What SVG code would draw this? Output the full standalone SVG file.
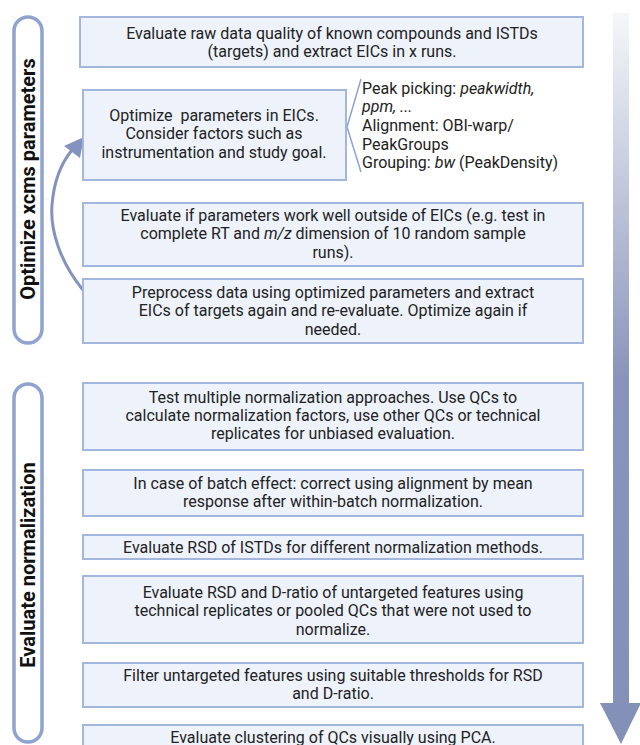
<svg xmlns="http://www.w3.org/2000/svg" width="640" height="745" viewBox="0 0 640 745">
<style>
.box{fill:#edf2fb;stroke:#a3b6dd;stroke-width:2}
.t{font-family:Roboto,"Liberation Sans",sans-serif;font-size:16px;fill:#222;text-anchor:middle}
.l{font-family:Roboto,"Liberation Sans",sans-serif;font-size:16px;fill:#222}
.pill{fill:#fff;stroke:#8fa3cf;stroke-width:3.5}
.side{font-family:Roboto,"Liberation Sans",sans-serif;font-size:20px;font-weight:bold;fill:#111;text-anchor:middle}
.con{fill:none;stroke:#8393bd;stroke-width:3}
</style>
<defs>
<linearGradient id="g" x1="0" y1="13" x2="0" y2="745" gradientUnits="userSpaceOnUse">
<stop offset="0" stop-color="#f6f7fa"/>
<stop offset="0.5" stop-color="#8894bb"/>
<stop offset="1" stop-color="#8391b8"/>
</linearGradient>
</defs>
<g id="bigarrow">
<rect x="613" y="13" width="16" height="692" fill="url(#g)"/>
<polygon points="600,703 641,703 621,744" fill="#8391b8"/>
</g>
<g id="phase1">
<rect class="pill" x="14" y="17" width="28" height="326" rx="14"/>
<text class="side" transform="translate(35,179) rotate(-90)">Optimize xcms parameters</text>
</g>
<g id="phase2">
<rect class="pill" x="14" y="384" width="28" height="358" rx="14"/>
<text class="side" transform="translate(35,565) rotate(-90)">Evaluate normalization</text>
</g>
<g id="connectors">
<path class="con" d="M83,290 C60,262 50,230 52,205 C54,180 62,162 72,150"/>
<polygon points="84,137 64,146 80,158" fill="#8393bd"/>
<path d="M361,79 L347,127 L361,172" fill="none" stroke="#8fa3cf" stroke-width="1.5"/>
</g>
<g id="n1">
<rect class="box" x="80" y="17" width="503" height="50"/>
<text class="t" x="332" y="38.5">Evaluate raw data quality of known compounds and ISTDs</text>
<text class="t" x="332" y="57">(targets) and extract EICs in x runs.</text>
</g>
<g id="n2">
<rect class="box" x="83" y="90" width="263" height="90"/>
<text class="t" x="214" y="120.5">Optimize&#160; parameters in EICs.</text>
<text class="t" x="214" y="139">Consider factors such as</text>
<text class="t" x="214" y="157.5">instrumentation and study goal.</text>
</g>
<g id="n2b">
<text class="l" x="362" y="93.5">Peak picking: <tspan font-style="italic">peakwidth,</tspan></text>
<text class="l" x="362" y="112"><tspan font-style="italic">ppm, ...</tspan></text>
<text class="l" x="362" y="131">Alignment: OBI-warp/</text>
<text class="l" x="362" y="149.5">PeakGroups</text>
<text class="l" x="362" y="168">Grouping: <tspan font-style="italic">bw</tspan> (PeakDensity)</text>
</g>
<g id="n3">
<rect class="box" x="83" y="203" width="500" height="63"/>
<text class="t" x="333" y="220.5">Evaluate if parameters work well outside of EICs (e.g. test in</text>
<text class="t" x="333" y="239">complete RT and <tspan font-style="italic">m/z</tspan> dimension of 10 random sample</text>
<text class="t" x="333" y="258">runs).</text>
</g>
<g id="n4">
<rect class="box" x="83" y="279" width="500" height="64"/>
<text class="t" x="333" y="297.5">Preprocess data using optimized parameters and extract</text>
<text class="t" x="333" y="316">EICs of targets again and re-evaluate. Optimize again if</text>
<text class="t" x="333" y="334.5">needed.</text>
</g>
<g id="n5">
<rect class="box" x="83" y="383" width="500" height="67"/>
<text class="t" x="333" y="402.5">Test multiple normalization approaches. Use QCs to</text>
<text class="t" x="333" y="421">calculate normalization factors, use other QCs or technical</text>
<text class="t" x="333" y="439">replicates for unbiased evaluation.</text>
</g>
<g id="n6">
<rect class="box" x="83" y="470" width="500" height="46"/>
<text class="t" x="333" y="488.5">In case of batch effect: correct using alignment by mean</text>
<text class="t" x="333" y="507">response after within-batch normalization.</text>
</g>
<g id="n7">
<rect class="box" x="83" y="535" width="500" height="24"/>
<text class="t" x="333" y="552.5">Evaluate RSD of ISTDs for different normalization methods.</text>
</g>
<g id="n8">
<rect class="box" x="83" y="576" width="500" height="67"/>
<text class="t" x="333" y="597.5">Evaluate RSD and D-ratio of untargeted features using</text>
<text class="t" x="333" y="616">technical replicates or pooled QCs that were not used to</text>
<text class="t" x="333" y="635">normalize.</text>
</g>
<g id="n9">
<rect class="box" x="83" y="663" width="500" height="44"/>
<text class="t" x="333" y="680.5">Filter untargeted features using suitable thresholds for RSD</text>
<text class="t" x="333" y="699">and D-ratio.</text>
</g>
<g id="n10">
<rect class="box" x="83" y="725" width="500" height="30"/>
<text class="t" x="333" y="742.5">Evaluate clustering of QCs visually using PCA.</text>
</g>
</svg>
